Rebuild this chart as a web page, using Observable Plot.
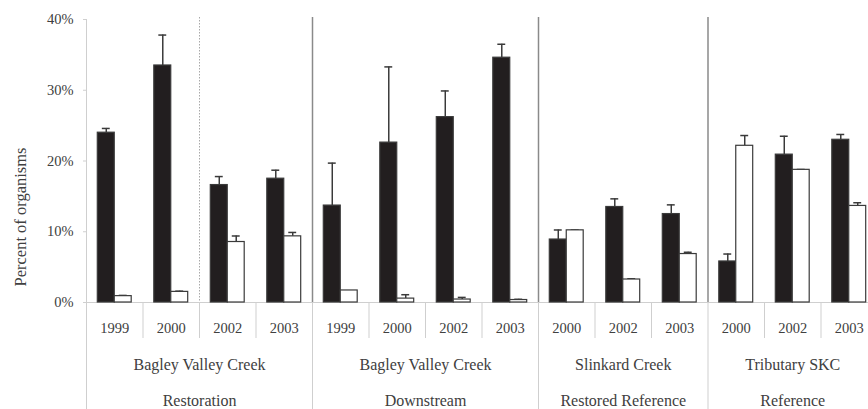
<!DOCTYPE html>
<html>
<head>
<meta charset="utf-8">
<script src="https://cdn.jsdelivr.net/npm/d3@7"></script>
<script src="https://cdn.jsdelivr.net/npm/@observablehq/plot@0.6"></script>
<style>
  html, body { margin: 0; padding: 0; background: #fff; }
  #chart svg { display: block; }
</style>
</head>
<body>
<div id="chart"></div>
<script>
// ---- data ----
const siteNames = ["Bagley Valley Creek", "Bagley Valley Creek", "Slinkard Creek", "Tributary SKC"];
const roleNames = ["Restoration", "Downstream", "Restored Reference", "Reference"];
const years = ["1999", "2000", "2002", "2003", "1999", "2000", "2002", "2003", "2000", "2002", "2003", "2000", "2002", "2003"];
const yearGroup = [0, 0, 0, 0, 1, 1, 1, 1, 2, 2, 2, 3, 3, 3];
const blackMean = [24.0, 33.5, 16.6, 17.5, 13.7, 22.6, 26.2, 34.6, 8.9, 13.5, 12.5, 5.8, 20.9, 23.0];
const blackErr  = [0.6, 4.3, 1.2, 1.2, 6.0, 10.7, 3.7, 1.9, 1.35, 1.15, 1.3, 1.05, 2.6, 0.75];
const whiteMean = [0.9, 1.5, 8.55, 9.35, 1.7, 0.55, 0.42, 0.35, 10.2, 3.25, 6.85, 22.15, 18.75, 13.65];
const whiteErr  = [0.1, 0.1, 0.85, 0.55, 0, 0.55, 0.3, 0.1, 0.05, 0.1, 0.25, 1.45, 0.05, 0.45];
const yTicks = [0, 10, 20, 30, 40];
const restorationBreak = [2]; // dotted divider between 2000 and 2002

// ---- derived tables ----
const cats = years.map((y, i) => ({i, year: y, g: yearGroup[i]}));
const bars = [];
cats.forEach(c => {
  bars.push({i: c.i, s: "black", v: blackMean[c.i], e: blackErr[c.i]});
  bars.push({i: c.i, s: "white", v: whiteMean[c.i], e: whiteErr[c.i]});
});
const groups = siteNames.map((name, g) => {
  const idx = cats.filter(c => c.g === g).map(c => c.i);
  return {g, site: name, role: roleNames[g], start: d3.min(idx), end: d3.max(idx) + 1};
});
const groupBounds = groups.slice(1).map(g => g.start);
const minorBounds = cats.filter(c => c.i > 0 && !groupBounds.includes(c.i)).map(c => c.i);
const lastBound = [cats.length];

const W = 0.3;   // bar width in category units
const CAP = 0.07;
const center = d => d.i + 0.5 + (d.s === "black" ? -W / 2 : W / 2);
const x1 = d => d.s === "black" ? d.i + 0.5 - W : d.i + 0.5;
const x2 = d => d.s === "black" ? d.i + 0.5 : d.i + 0.5 + W;

const ink = "#3a3a3a";
const light = "#cfcfcf";

const chart = Plot.plot({
  width: 868,
  height: 409,
  marginTop: 19,
  marginBottom: 107,
  marginLeft: 86,
  marginRight: 0,
  style: {fontFamily: "'Liberation Serif', serif", fontSize: "14.5px", color: "#404040", background: "#fff"},
  x: {type: "linear", domain: [0, cats.length], range: [86, 877], axis: null},
  y: {domain: [0, 40]},
  marks: [
    // y axis
    Plot.axisY({ticks: yTicks, tickFormat: d => d + "%", tickSize: 3, tickPadding: 10, stroke: light, label: null, fill: "#404040"}),
    Plot.ruleX([0], {stroke: light, insetBottom: -107}),
    // baseline
    Plot.ruleY([0], {stroke: light}),
    // separators below the axis
    Plot.ruleX(minorBounds, {y1: 0, y2: 0, insetBottom: -36, stroke: light}),
    Plot.ruleX(groupBounds.concat(lastBound), {y1: 0, y2: 0, insetBottom: -107, stroke: light}),
    // dividers inside the plot
    Plot.ruleX(groupBounds, {stroke: "#8a8a8a", strokeWidth: 1.5, insetTop: -2}),
    Plot.ruleX(restorationBreak, {stroke: "#a8a8a8", strokeDasharray: "1.5,1.5", insetTop: -2}),
    // error bars
    Plot.ruleX(bars.filter(d => d.e > 0), {x: center, y1: "v", y2: d => d.v + d.e, stroke: ink, strokeWidth: 1.5}),
    Plot.ruleY(bars.filter(d => d.e > 0), {y: d => d.v + d.e, x1: d => center(d) - CAP, x2: d => center(d) + CAP, stroke: ink, strokeWidth: 1.5}),
    // bars
    Plot.rectY(bars, {x1, x2, y1: 0, y2: "v", fill: d => d.s === "black" ? "#221e1f" : "#ffffff", stroke: ink, strokeWidth: 1.2}),
    // labels
    Plot.text(cats, {x: d => d.i + 0.5, text: "year", frameAnchor: "bottom", dy: 26, lineAnchor: "middle"}),
    Plot.text(groups, {x: d => (d.start + d.end) / 2, text: "site", frameAnchor: "bottom", dy: 62, lineAnchor: "middle", fontSize: 16}),
    Plot.text(groups, {x: d => (d.start + d.end) / 2, text: "role", frameAnchor: "bottom", dy: 98, lineAnchor: "middle", fontSize: 16}),
    Plot.text(["Percent of organisms"], {frameAnchor: "left", textAnchor: "middle", rotate: -90, dx: -66, dy: 56, lineAnchor: "middle", fontSize: 16.5})
  ]
});
document.getElementById("chart").append(chart);
</script>
</body>
</html>
